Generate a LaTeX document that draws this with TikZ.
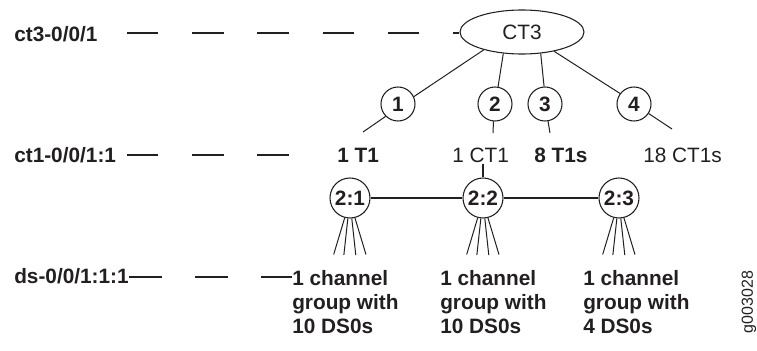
\documentclass[tikz,border=0pt]{standalone}
\usepackage{fontspec}
\setmainfont{Liberation Sans}
\usetikzlibrary{shapes.geometric,calc}
\definecolor{ink}{RGB}{35,31,32}
\begin{document}
\begin{tikzpicture}[x=0.75pt,y=-0.75pt,
  bigfont/.style={font=\fontsize{15.6}{18}\selectfont},
  lbl/.style={font=\bfseries\fontsize{15.6}{18}\selectfont, inner sep=0, anchor=base west, text=ink},
  reg/.style={font=\fontsize{15.6}{18}\selectfont, inner sep=0, anchor=base west, text=ink},
  numc/.style={circle, draw=ink, line width=0.8pt, minimum size=25.5pt, inner sep=0, font=\bfseries\fontsize{15.6}{18}\selectfont, text=ink},
  subc/.style={circle, draw=ink, line width=0.8pt, minimum size=30pt, inner sep=0, font=\bfseries\fontsize{15.6}{18}\selectfont, text=ink},
  grp/.style={font=\bfseries\fontsize{15.6}{18}\selectfont, inner sep=0, anchor=north west, align=left, text=ink},
  dashln/.style={draw=ink, line width=1.5pt, dash pattern=on 23.6pt off 25.3pt},
  dashlnb/.style={draw=ink, line width=1.5pt, dash pattern=on 24.6pt off 25pt},
  tline/.style={draw=ink, line width=0.75pt},
  bline/.style={draw=ink, line width=1.5pt}
]
\useasboundingbox (0,0) rectangle (757,350);

% row labels
\node[lbl] (r1) at (14,41) {ct3-0/0/1};
\node[lbl] (r2) at (14,162) {ct1-0/0/1:1};
\node[lbl] (r3) at (14,283.5) {ds-0/0/1:1:1};

% top node
\node[ellipse, draw=ink, line width=0.8pt, minimum width=93pt, minimum height=33pt, inner sep=0, bigfont, text=ink] (ct3) at (522,32) {CT3};

% numbered circles
\node[numc] (c1) at (398,104) {1};
\node[numc] (c2) at (495,104) {2};
\node[numc] (c3) at (545,104) {3};
\node[numc] (c4) at (634,104) {4};

% row 2 labels
\node[lbl] (t1) at (337,162) {1 T1};
\node[reg] (t2) at (452,162) {1 CT1};
\node[lbl] (t3) at (534,162) {8 T1s};
\node[reg] (t4) at (643,162) {18 CT1s};

% channel circles
\node[subc] (c21) at (350,198) {2:1};
\node[subc] (c22) at (483,198) {2:2};
\node[subc] (c23) at (619,198) {2:3};

% group texts
\node[grp] (g1) at (292,270) {1 channel\\group with\\10 DS0s};
\node[grp] (g2) at (440,270) {1 channel\\group with\\10 DS0s};
\node[grp] (g3) at (583,270) {1 channel\\group with\\4 DS0s};

% figure id
\node[rotate=90, font=\fontsize{12}{14}\selectfont, text=ink, inner sep=0] (gid) at (749,302) {g003028};

% dashed rows
\coordinate (d1) at (127,33);
\coordinate (d2) at (127,155);
\coordinate (d2e) at (289,155);
\coordinate (d3) at (129,277);
\draw[dashln] (d1) -- (d1 -| ct3.west);
\draw[dashln] (d2) -- (d2e);
\draw[dashlnb] (d3) -- (d3 -| g1.west);

% tree lines
\draw[tline] (ct3.205) -- (c1.25);
\draw[tline] (ct3.229) -- (c2.80);
\draw[tline] (ct3.311) -- (c3.93);
\draw[tline] (ct3.329) -- (c4.143);

\coordinate (e1) at (363,132);
\coordinate (e2) at (493,133);
\coordinate (e3) at (550,133);
\coordinate (e4) at (672,129);
\draw[tline] (c1.225) -- (e1);
\draw[tline] (c2.265) -- (e2);
\draw[tline] (c3.280) -- (e3);
\draw[tline] (c4.327) -- (e4);

% tick and channel bus
\draw[bline] (c22.north) -- ++(0,-13);
\draw[bline] (c21.east) -- (c22.west);
\draw[bline] (c22.east) -- (c23.west);

% fans
\foreach \n in {c21,c22,c23} {
  \draw[tline] (\n.255.5) -- ++(-11,36.6);
  \draw[tline] (\n.264.3) -- ++(-4,36.6);
  \draw[tline] (\n.275.7) -- ++(4,36.6);
  \draw[tline] (\n.284.5) -- ++(11,36.6);
}
\end{tikzpicture}
\end{document}
